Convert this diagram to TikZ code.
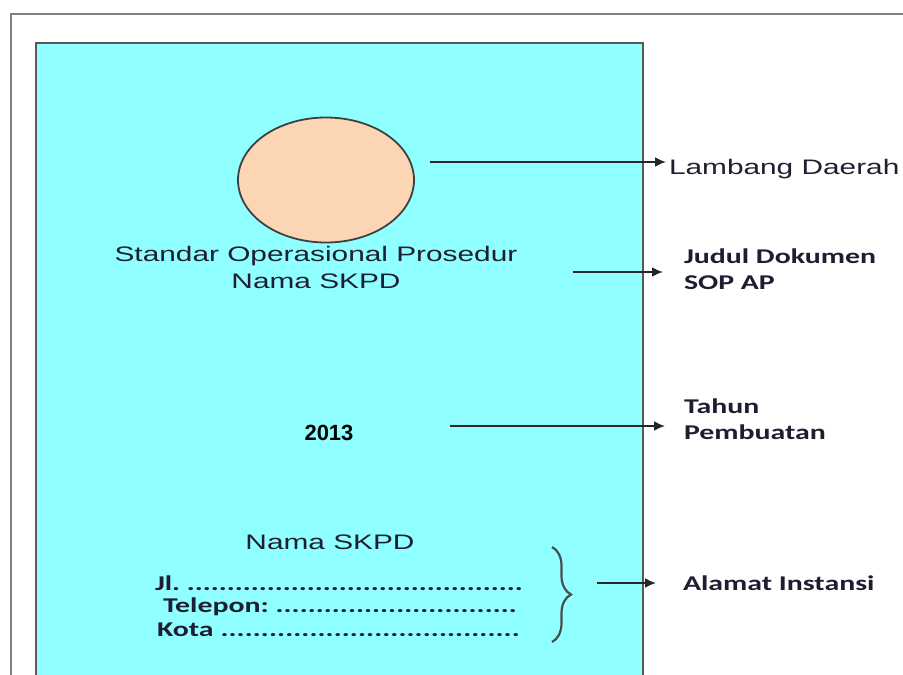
\documentclass[tikz,border=0pt]{standalone}
\usepackage{xcolor}
\usepackage{fontspec}
\usepackage{tikz}
\usetikzlibrary{shapes,arrows.meta,decorations.pathreplacing}

\newfontfamily\wideArial[FakeStretch=1.42]{Liberation Sans}
\newfontfamily\plainArial{Liberation Sans}
\newfontfamily\wideCalibri[FakeStretch=1.42]{Carlito}

\definecolor{pagecyan}{HTML}{8FFFFF}
\definecolor{logofill}{HTML}{FCD5B5}
\definecolor{framegray}{HTML}{7F7F7F}
\definecolor{inkdark}{HTML}{1E1E32}

\newcommand{\dotrow}[2]{\makebox[#1][l]{#2\xleaders\hbox{.}\hfill}}

\begin{document}
\begin{tikzpicture}[x=1pt,y=-1pt]
				\tikzstyle{common} = [inner sep=0, outer sep=0, text=inkdark]
				\tikzstyle{cover} = [common, font=\wideArial\fontsize{21}{27}\selectfont, align=center]
				\tikzstyle{side} = [common, anchor=west, align=left, font=\wideCalibri\bfseries\fontsize{21}{26}\selectfont]
				\tikzstyle{addr} = [common, anchor=west, font=\wideCalibri\bfseries\fontsize{21}{24}\selectfont]
				\tikzstyle{logo} = [ellipse, draw=black!75, line width=1.8, fill=logofill, minimum width=176, minimum height=125]
				\tikzstyle{line} = [draw, black!85, line width=2, -{Latex[length=11pt,width=10pt]}]
				\useasboundingbox (0,0) rectangle (903,675);
				\clip (0,0) rectangle (903,675);
				% page frame and cover sheet
				\draw[framegray, line width=2] (11,14) rectangle (930,700);
				\draw[black!65, line width=1.8, fill=pagecyan] (36,43) rectangle (643,700);

				\node[logo] (logo) at (326,180) {};
				\node[cover] (title) at (316,267) {Standar Operasional Prosedur\\Nama SKPD};
				\node[common, font=\plainArial\bfseries\fontsize{22}{26}\selectfont, text=black] (year) at (329,433) {2013};
				\node[cover] (office) at (330,542) {Nama SKPD};
				\node[addr] (street) at (155,583) {\dotrow{368pt}{Jl.~}};
				\node[addr] (phone) at (163,607) {\dotrow{354pt}{Telepon:~}};
				\node[addr] (city) at (157,630) {\dotrow{363pt}{Kota~}};
				\draw[black!70, line width=2.2, decorate, decoration={brace, amplitude=19}] (552,547) -- (552,642);

				% labels on the right
				\node[common, anchor=west, font=\wideArial\fontsize{21}{26}\selectfont] (lambang) at (669,169) {Lambang Daerah};
				\node[side] (judul) at (684,269) {Judul Dokumen\\SOP AP};
				\node[side] (tahun) at (684,419) {Tahun\\Pembuatan};
				\node[side] (alamat) at (683,583) {Alamat Instansi};

				\coordinate (c1) at (430,162);
				\coordinate (c2) at (573,272);
				\coordinate (c3) at (450,426);
				\coordinate (c4) at (597,583);
				\draw[line] (c1) -- ([xshift=-3]lambang.west |- c1);
				\draw[line] (c2) -- ([xshift=-21]judul.west |- c2);
				\draw[line] (c3) -- ([xshift=-19]tahun.west |- c3);
				\draw[line] (c4) -- ([xshift=-27]alamat.west |- c4);
			\end{tikzpicture}
\end{document}
